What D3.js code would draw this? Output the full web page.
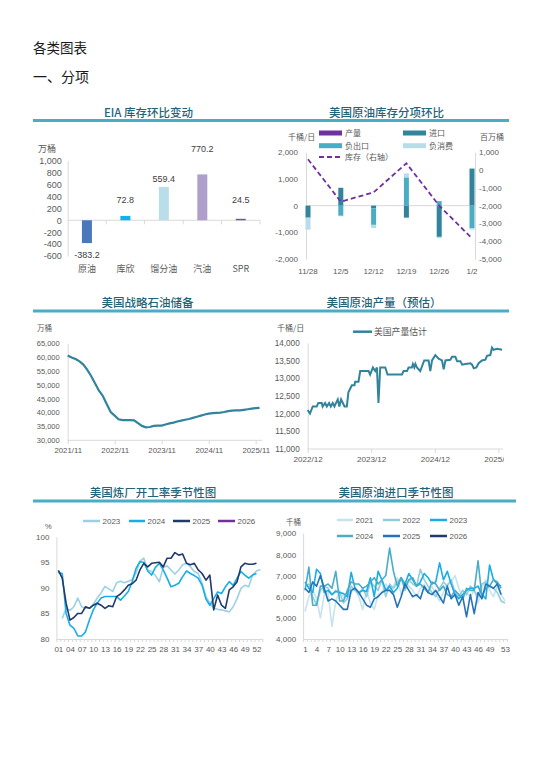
<!DOCTYPE html>
<html>
<head>
<meta charset="utf-8">
<title>各类图表</title>
<style>
  body { margin: 0; background: #fff; }
  text { font-family: "Liberation Sans", "Noto Sans CJK SC", sans-serif; }
  .cjk { font-family: "Noto Sans CJK SC", sans-serif; }
</style>
</head>
<body>
<div id="page"></div>
<script src="https://cdn.jsdelivr.net/npm/d3@7/dist/d3.min.js"></script>
<script>

// EIA 库存环比变动 (万桶)
var eiaCats = ["原油", "库欣", "馏分油", "汽油", "SPR"];
var eiaValues = [-383.2, 72.8, 559.4, 770.2, 24.5];
var eiaTicks = [-600, -400, -200, 0, 200, 400, 600, 800, 1000];

// 美国原油库存分项环比 (千桶/日, 库存 右轴)
var splitWeeks = ["11/28", "12/5", "12/12", "12/19", "12/26", "1/2"];
var splitProd = [0, 20, 0, 10, -20, 10];
var splitImport = [-450, 650, -100, -450, -1150, 1380];
var splitNegExport = [0, -380, -620, 1050, 170, -850];
var splitNegCons = [-450, -20, -120, 150, -50, -50];
var splitStock = [606, -1777, -1251, 381, -2000, -3840];
var splitLeftTicks = [-2000, -1000, 0, 1000, 2000];
var splitRightTicks = [-5000, -4000, -3000, -2000, -1000, 0, 1000];

// 美国战略石油储备 (万桶, monthly from 2021/11)
var sprValues = [60600, 59900, 59300, 58500, 57400, 55500, 53300, 50600, 48000, 46000,
  43000, 40200, 38900, 37600, 37300, 37300, 37300, 37200, 36200, 35200,
  34700, 34800, 35200, 35300, 35300, 35700, 36100, 36400, 36800, 37100,
  37400, 37700, 38100, 38500, 38900, 39300, 39600, 39800, 39900, 40000,
  40200, 40500, 40700, 40800, 40800, 41000, 41200, 41400, 41600, 41700];
var sprTicks = ["2021-11-01", "2022-11-01", "2023-11-01", "2024-11-01", "2025-11-01"];
var sprYTicks = [30000, 35000, 40000, 45000, 50000, 55000, 60000, 65000];

// 美国原油产量 (千桶/日)
var prodDates = ["2022-12-01", "2022-12-14", "2022-12-30", "2023-01-22", "2023-01-31", "2023-02-20",
  "2023-02-25", "2023-03-11", "2023-03-21", "2023-04-03", "2023-04-13", "2023-04-24", "2023-05-04",
  "2023-05-13", "2023-05-23", "2023-06-01", "2023-06-11", "2023-06-21", "2023-07-01", "2023-07-14",
  "2023-07-23", "2023-08-02", "2023-08-12", "2023-08-27", "2023-08-31", "2023-09-19", "2023-09-29",
  "2023-11-16", "2023-11-25", "2023-12-11", "2023-12-24", "2024-01-03", "2024-01-12", "2024-01-22",
  "2024-02-20", "2024-03-04", "2024-05-26", "2024-06-04", "2024-06-24", "2024-07-03", "2024-07-22",
  "2024-07-28", "2024-08-05", "2024-08-11", "2024-08-20", "2024-09-08", "2024-10-01", "2024-10-26",
  "2024-11-05", "2024-11-15", "2024-12-04", "2024-12-23", "2025-01-11", "2025-01-21", "2025-01-31",
  "2025-02-28", "2025-03-10", "2025-03-29", "2025-04-08", "2025-04-27", "2025-05-07", "2025-05-26",
  "2025-06-24", "2025-07-03", "2025-07-13", "2025-07-28", "2025-08-10", "2025-08-29", "2025-09-18",
  "2025-09-27", "2025-10-16", "2025-10-26", "2025-11-04", "2025-11-24", "2025-12-23"];
var prodValues = [12100, 12000, 12200, 12200, 12300, 12300,
  12200, 12300, 12200, 12300, 12200, 12300, 12200,
  12300, 12400, 12200, 12400, 12300, 12200, 12200,
  12600, 12700, 12800, 12800, 12900, 12900, 13200,
  13200, 13100, 13300, 13200, 13300, 12300, 13300,
  13300, 13100, 13100, 13200, 13200, 13300, 13300,
  13400, 13300, 13400, 13300, 13200, 13500, 13500,
  13200, 13500, 13650, 13550, 13500, 13250, 13500,
  13520, 13600, 13600, 13480, 13480, 13380, 13400,
  13420, 13380, 13280, 13300, 13420, 13500, 13520,
  13630, 13650, 13860, 13800, 13830, 13800];
var prodTicks = ["2022-12-01", "2023-12-01", "2024-12-01", "2025-12-01"];
var prodYTicks = [11000, 11500, 12000, 12500, 13000, 13500, 14000];

// 美国炼厂开工率 (%) by week
var utilWeekTicks = [1, 4, 7, 10, 13, 16, 19, 22, 25, 28, 31, 34, 37, 40, 43, 46, 49, 52];
var util2023 = [null, 84.0, 86.0, 85.6, 86.3, 88.0, 86.3, 86.0, 86.0, 86.8, 88.0, 89.0, 90.3, 89.8, 89.3,
  91.0, 91.3, 91.0, 91.3, 91.6, 92.9, 95.2, 95.8, 93.5, 93.2, 92.4, 91.2, 94.0, 94.3, 93.5, 92.7,
  93.5, 94.5, 94.8, 94.1, 93.2, 92.8, 90.9, 88.3, 87.0, 86.0, 85.8, 85.7, 85.5, 85.3, 86.3, 87.9,
  89.9, 90.5, 90.2, 92.5, 93.3, 93.6];
var util2024 = [93.0, 92.8, 85.0, 82.7, 82.1, 80.6, 80.6, 81.4, 83.7, 85.7, 87.0, 88.0, 88.3, 88.3,
  88.3, 88.3, 87.6, 88.4, 89.3, 91.2, 93.8, 95.1, 95.0, 93.3, 92.5, 94.0, 94.8, 93.5, 91.9, 90.2,
  90.5, 90.9, 92.2, 93.3, 92.8, 92.4, 91.9, 90.5, 87.8, 86.6, 87.9, 89.2, 88.9, 90.2, 91.2, 90.5,
  91.9, 93.2, 92.5, 91.9, 92.5, 92.8];
var util2025 = [93.4, 91.9, 87.0, 83.7, 84.2, 85.0, 85.0, 86.3, 86.0, 86.6, 87.0, 86.6, 86.0, 86.5,
  86.3, 88.3, 88.8, 89.6, 90.5, 90.8, 91.5, 93.5, 94.8, 94.1, 94.8, 94.9, 95.0, 94.1, 95.8, 95.8,
  96.9, 96.4, 96.6, 94.8, 94.5, 94.8, 93.5, 92.8, 91.5, 92.5, 85.7, 88.6, 86.6, 86.0, 89.6, 90.2,
  91.2, 94.1, 94.8, 94.6, 94.6, 94.8];
var util2026 = [];
var utilYTicks = [80, 85, 90, 95, 100];

// 美国原油进口 (千桶) by week
var impWeekTicks = [1, 4, 7, 10, 13, 16, 19, 22, 25, 28, 31, 34, 37, 40, 43, 46, 49, 53];
var imp2021 = [5300, 6000, 6300, 5900, 5000, 6100, 6200, 4600, 5800, 6300, 6000, 5900, 6200, 6400,
  6000, 5400, 6300, 5700, 5400, 6100, 6200, 6600, 6300, 6500, 6900, 6100, 6700, 6500, 6300, 6000,
  6400, 6600, 6200, 6500, 6100, 5800, 6200, 6600, 6700, 7000, 6400, 5900, 6200, 6000, 6300, 5700,
  6400, 6800, 6300, 6000, 6500, 6100, 5800];
var imp2022 = [6500, 6600, 6000, 5600, 6300, 6500, 6400, 6100, 6300, 6200, 5700, 5900, 6500, 6300,
  6100, 6400, 6000, 6700, 6500, 6300, 6800, 6000, 6600, 6400, 6700, 6900, 6300, 6800, 6600, 6500,
  7300, 6800, 6500, 6200, 6000, 6400, 6700, 6500, 6800, 6200, 6000, 6300, 6100, 6500, 6300, 6000,
  6600, 6700, 6500, 6400, 6200, 5800, 5700];
var imp2023 = [6700, 6400, 6200, 7300, 7100, 6200, 6300, 6100, 6250, 6200, 6150, 6000, 7150, 6400,
  6200, 6300, 6250, 6900, 6000, 7200, 6800, 6300, 6500, 6200, 6400, 6900, 6600, 7100, 6800, 6500,
  6700, 7100, 6900, 6600, 6700, 7600, 6800, 7200, 6600, 6100, 5900, 6100, 6300, 6400, 6400, 6500,
  6100, 5900, 7500, 6800, 6600, 6500];
var imp2024 = [6300, 7400, 5600, 5600, 6500, 6500, 6600, 6400, 7200, 5800, 5800, 6300, 6700, 6600,
  6600, 6400, 6500, 6700, 6900, 6600, 6800, 7000, 8300, 7200, 6500, 6900, 6400, 6800, 6900, 6500,
  6600, 6400, 6200, 6700, 6600, 6300, 6500, 6100, 6000, 6300, 6100, 5900, 6400, 6300, 6300, 7700,
  6000, 6400, 6500, 6800, 6700, 6400];
var imp2025 = [6400, 6200, 6700, 6500, 7000, 6400, 5800, 5900, 5800, 5600, 5400, 5400, 6300, 6400,
  6200, 5900, 5600, 5500, 5900, 6000, 6200, 6300, 6300, 6100, 5500, 6000, 6600, 6300, 6000, 6100,
  5900, 6500, 6200, 6100, 6300, 6000, 5700, 6500, 5900, 6100, 5600, 6000, 5050, 6100, 5200, 6200,
  5900, 6600, 6500, 6400, 6600, 6100];
var imp2026 = [6400];
var impYTicks = [4000, 5000, 6000, 7000, 8000, 9000];


var W = 550, H = 778;
var AXIS = "#D9D9D9", LABEL = "#595959", TITLE = "#1F6479", RULE = "#4BACC6";

var svg = d3.select("#page").append("svg")
	.attr("width", W).attr("height", H)
	.style("display", "block");
svg.append("rect").attr("width", W).attr("height", H).attr("fill", "#fff");

var loc = d3.formatLocale({decimal: ".", thousands: ",", grouping: [3], currency: ["", ""], minus: "-"});
var comma = loc.format(",");
var oneDec = loc.format(".1f");
var day = d3.timeParse("%Y-%m-%d");

function text(x, y, str, size, opts) {
	opts = opts || {};
	return svg.append("text")
		.attr("class", opts.latin ? null : "cjk")
		.attr("x", x).attr("y", y)
		.attr("text-anchor", opts.anchor || "start")
		.style("font-size", size + "px")
		.style("font-weight", opts.weight || null)
		.style("fill", opts.fill || LABEL)
		.text(str);
}
function rule(x0, x1, y) {
	svg.append("line").attr("x1", x0).attr("x2", x1).attr("y1", y).attr("y2", y)
		.attr("stroke", RULE).attr("stroke-width", 3);
}
function tidy(g, size) {
	g.attr("font-family", '"Liberation Sans", sans-serif').attr("font-size", size);
	g.select(".domain").attr("stroke", AXIS);
	g.selectAll(".tick line").attr("stroke", AXIS);
	g.selectAll(".tick text").attr("fill", LABEL);
	return g;
}
function hline(x0, x1, y) {
	svg.append("line").attr("x1", x0).attr("x2", x1).attr("y1", y).attr("y2", y)
		.attr("stroke", AXIS).attr("stroke-width", 1);
}

// page headings
text(33, 53, "各类图表", 13.5, {fill: "#1a1a1a"});
text(33, 82, "一、分项", 14, {fill: "#1a1a1a"});

// section rules + titles
rule(33, 509, 120.5);
rule(33, 509, 311);
rule(33, 516, 501);
var tOpt = {anchor: "middle", fill: TITLE, weight: 500};
text(148.5, 117, "EIA 库存环比变动", 11.5, tOpt);
text(386.5, 117, "美国原油库存分项环比", 11.5, tOpt);
text(147.5, 307, "美国战略石油储备", 11.5, tOpt);
text(384, 307, "美国原油产量（预估）", 11.5, tOpt);
text(153, 497, "美国炼厂开工率季节性图", 11.5, tOpt);
text(396, 497, "美国原油进口季节性图", 11.5, tOpt);


// ---------- EIA 库存环比变动
(function () {
	var x = d3.scaleBand().domain(eiaCats).range([67.7, 260]);
	var y = d3.scaleLinear().domain([-600, 1000]).range([256, 160.7]);
	var colors = ["#4A78BA", "#0FB0EE", "#B9DEEA", "#AE9FCB", "#606089"];
	// Excel label nudges (px above the bar end)
	var lift = [0, 16, 8, 25, 19];

	text(38, 152, "万桶", 9);
	tidy(svg.append("g").attr("transform", "translate(67.7,0)")
		.call(d3.axisLeft(y).tickValues(eiaTicks).tickFormat(comma).tickSize(0).tickPadding(6).tickSizeOuter(0)), 9);

	hline(67.7, 260, y(0));
	svg.selectAll(".eia-tick").data(eiaCats.slice(1).concat([null])).enter().append("line")
		.attr("x1", function (d) { return d ? x(d) : x.range()[1]; })
		.attr("x2", function (d) { return d ? x(d) : x.range()[1]; })
		.attr("y1", y(0)).attr("y2", y(0) + 4)
		.attr("stroke", AXIS);

	var bw = 10;
	svg.selectAll(".eia-bar").data(eiaValues).enter().append("rect")
		.attr("x", function (d, i) { return x(eiaCats[i]) + (x.bandwidth() - bw) / 2; })
		.attr("y", function (d) { return y(Math.max(0, d)); })
		.attr("width", bw)
		.attr("height", function (d) { return Math.abs(y(d) - y(0)); })
		.attr("fill", function (d, i) { return colors[i]; });

	svg.selectAll(".eia-val").data(eiaValues).enter().append("text")
		.attr("x", function (d, i) { return x(eiaCats[i]) + x.bandwidth() / 2; })
		.attr("y", function (d, i) { return d < 0 ? y(d) + 15 : y(d) - lift[i] + 3; })
		.attr("text-anchor", "middle")
		.style("font-size", "9px").style("fill", "#404040")
		.text(function (d) { return oneDec(d); });

	svg.selectAll(".eia-cat").data(eiaCats).enter().append("text")
		.attr("class", "cjk")
		.attr("x", function (d) { return x(d) + x.bandwidth() / 2; })
		.attr("y", 272)
		.attr("text-anchor", "middle")
		.style("font-size", "9px").style("fill", LABEL)
		.text(function (d) { return d; });
})();


// ---------- 美国原油库存分项环比
(function () {
	var x = d3.scalePoint().domain(splitWeeks).range([308, 472]);
	var yL = d3.scaleLinear().domain([-2000, 2000]).range([259, 152.3]);
	var yR = d3.scaleLinear().domain([-5000, 1000]).range([259, 152.3]);
	var keys = ["prod", "imp", "exp", "cons"];
	var names = {prod: "产量", imp: "进口", exp: "负出口", cons: "负消费"};
	var colors = {prod: "#7030A0", imp: "#31849B", exp: "#4BACC6", cons: "#B7DEE8"};

	var rows = splitWeeks.map(function (w, i) {
		return {week: w, prod: splitProd[i], imp: splitImport[i], exp: splitNegExport[i], cons: splitNegCons[i]};
	});
	var series = d3.stack().keys(keys).offset(d3.stackOffsetDiverging)(rows);

	text(288, 140, "千桶/日", 8);
	text(480, 140, "百万桶", 8);

	tidy(svg.append("g").attr("transform", "translate(306,0)")
		.call(d3.axisLeft(yL).tickValues(splitLeftTicks).tickFormat(comma).tickSize(0).tickPadding(8).tickSizeOuter(0)), 8);
	tidy(svg.append("g").attr("transform", "translate(475,0)")
		.call(d3.axisRight(yR).tickValues(splitRightTicks).tickFormat(comma).tickSize(0).tickPadding(4).tickSizeOuter(0)), 8);
	hline(306, 475, yL(0));

	var bw = 5;
	svg.selectAll(".split-s").data(series).enter().append("g")
		.attr("fill", function (s) { return colors[s.key]; })
		.selectAll("rect").data(function (s) { return s; }).enter().append("rect")
		.attr("x", function (d) { return x(d.data.week) - bw / 2; })
		.attr("y", function (d) { return yL(Math.max(d[0], d[1])); })
		.attr("width", bw)
		.attr("height", function (d) { return Math.abs(yL(d[0]) - yL(d[1])); });

	var line = d3.line()
		.x(function (d, i) { return x(splitWeeks[i]); })
		.y(function (d) { return yR(d); });
	svg.append("path").datum(splitStock)
		.attr("d", line)
		.attr("fill", "none")
		.attr("stroke", "#7030A0")
		.attr("stroke-width", 1.8)
		.attr("stroke-dasharray", "5,3");

	svg.selectAll(".split-x").data(splitWeeks).enter().append("text")
		.attr("x", function (d) { return x(d); })
		.attr("y", 274)
		.attr("text-anchor", "middle")
		.style("font-size", "8px").style("fill", LABEL)
		.text(function (d) { return d; });

	// legend
	var spots = [[319, 133, "prod"], [403, 133, "imp"], [319, 145.7, "exp"], [403, 145.7, "cons"]];
	spots.forEach(function (s) {
		svg.append("rect").attr("x", s[0]).attr("y", s[1] - 2.5).attr("width", 23).attr("height", 5)
			.attr("fill", colors[s[2]]);
		text(s[0] + 26, s[1] + 3, names[s[2]], 8);
	});
	svg.append("line").attr("x1", 319).attr("x2", 342).attr("y1", 157).attr("y2", 157)
		.attr("stroke", "#7030A0").attr("stroke-width", 1.8).attr("stroke-dasharray", "5,3");
	text(345, 160, "库存（右轴）", 8);
})();


// ---------- 美国战略石油储备
(function () {
	var x = d3.scaleTime().domain([day("2021-11-01"), day("2025-11-01")]).range([67.7, 255.7]);
	var y = d3.scaleLinear().domain([30000, 65000]).range([440.3, 343.3]);

	text(37, 331, "万桶", 7.5);
	tidy(svg.append("g").attr("transform", "translate(67.7,0)")
		.call(d3.axisLeft(y).tickValues(sprYTicks).tickFormat(comma).tickSize(0).tickPadding(8).tickSizeOuter(0)), 7.5);

	var gx = svg.append("g").attr("transform", "translate(0,440.3)")
		.call(d3.axisBottom(x).tickValues(sprTicks.map(day)).tickFormat(d3.timeFormat("%Y/%m"))
			.tickSize(4).tickPadding(3).tickSizeOuter(0));
	tidy(gx, 7.8);
	gx.select(".domain").remove();
	hline(67.7, 262.3, 440.3);

	var line = d3.line()
		.x(function (d, i) { return x(new Date(2021, 10 + i, 1)); })
		.y(function (d) { return y(d); });
	svg.append("path").datum(sprValues)
		.attr("d", line)
		.attr("fill", "none")
		.attr("stroke", "#31849B")
		.attr("stroke-width", 2.2);
})();


// ---------- 美国原油产量（预估）
(function () {
	var x = d3.scaleTime().domain([day("2022-12-01"), day("2025-12-01")]).range([307.7, 498.3]);
	var y = d3.scaleLinear().domain([11000, 14000]).range([449, 342.7]);

	text(277, 331, "千桶/日", 8);
	tidy(svg.append("g").attr("transform", "translate(307.7,0)")
		.call(d3.axisLeft(y).tickValues(prodYTicks).tickFormat(comma).tickSize(0).tickPadding(8).tickSizeOuter(0)), 8.2);

	// last label is cut off at the plot edge, as in the source chart
	svg.append("clipPath").attr("id", "prodclip")
		.append("rect").attr("x", 270).attr("y", -10).attr("width", 234).attr("height", 40);
	var gx = svg.append("g").attr("transform", "translate(0,449)")
		.attr("clip-path", "url(#prodclip)")
		.call(d3.axisBottom(x).tickValues(prodTicks.map(day)).tickFormat(d3.timeFormat("%Y/%m"))
			.tickSize(4).tickPadding(3).tickSizeOuter(0));
	tidy(gx, 8.1);
	gx.select(".domain").remove();
	hline(307.7, 503, 449);

	var line = d3.line()
		.x(function (d, i) { return x(day(prodDates[i])); })
		.y(function (d) { return y(d); });
	svg.append("path").datum(prodValues)
		.attr("d", line)
		.attr("fill", "none")
		.attr("stroke", "#31849B")
		.attr("stroke-width", 2);

	svg.append("line").attr("x1", 353).attr("x2", 372).attr("y1", 331.7).attr("y2", 331.7)
		.attr("stroke", "#31849B").attr("stroke-width", 2.5);
	text(374, 335, "美国产量估计", 8.8);
})();


// seasonal helper
function seasonal(cfg) {
	var x = d3.scaleLinear().domain([0.5, 53.5]).range(cfg.xr);
	var y = d3.scaleLinear().domain(cfg.yd).range(cfg.yr);

	tidy(svg.append("g").attr("transform", "translate(" + cfg.xr[0] + ",0)")
		.call(d3.axisLeft(y).tickValues(cfg.yTicks).tickFormat(comma).tickSize(0).tickPadding(7).tickSizeOuter(0)), 8);

	// minor ticks between weeks
	var gm = svg.append("g").attr("transform", "translate(0," + cfg.yr[0] + ")")
		.call(d3.axisBottom(x).tickValues(d3.range(0.5, 54, 1)).tickFormat("").tickSize(3).tickSizeOuter(0));
	tidy(gm, 8);
	var gx = svg.append("g").attr("transform", "translate(0," + cfg.yr[0] + ")")
		.call(d3.axisBottom(x).tickValues(cfg.xTicks).tickFormat(cfg.xFormat).tickSize(0).tickPadding(7));
	tidy(gx, 8);
	gx.select(".domain").remove();

	var line = d3.line()
		.defined(function (d) { return d != null; })
		.x(function (d, i) { return x(i + 1); })
		.y(function (d) { return y(d); });
	cfg.series.forEach(function (s) {
		svg.append("path").datum(s.values)
			.attr("d", line)
			.attr("fill", "none")
			.attr("stroke", s.color)
			.attr("stroke-width", s.width || 1.6)
			.attr("stroke-linejoin", "round");
	});
	cfg.series.forEach(function (s, i) {
		var p = cfg.legend[i];
		svg.append("line").attr("x1", p[0]).attr("x2", p[0] + p[2]).attr("y1", p[1]).attr("y2", p[1])
			.attr("stroke", s.color).attr("stroke-width", 2.5);
		text(p[0] + p[2] + 2.5, p[1] + 3, s.name, 8, {latin: true});
	});
}

// ---------- 美国炼厂开工率季节性图
text(45, 529, "%", 7.5, {latin: true});
seasonal({
	xr: [56.4, 262.3], yd: [80, 100], yr: [639, 536.7],
	yTicks: utilYTicks, xTicks: utilWeekTicks, xFormat: d3.format("02d"),
	series: [
		{name: "2023", values: util2023, color: "#9BD1E4"},
		{name: "2024", values: util2024, color: "#16AEEA"},
		{name: "2025", values: util2025, color: "#203A6B"},
		{name: "2026", values: util2026, color: "#7030A0"}
	],
	legend: [[83, 521, 17], [129, 521, 16], [173, 521, 17], [218, 521, 17]]
});

// ---------- 美国原油进口季节性图
text(286, 525, "千桶", 7.5);
seasonal({
	xr: [303.1, 506.9], yd: [4000, 9000], yr: [639, 533.3],
	yTicks: impYTicks, xTicks: impWeekTicks, xFormat: d3.format("d"),
	series: [
		{name: "2021", values: imp2021, color: "#C6E3EE"},
		{name: "2022", values: imp2022, color: "#92CDDC"},
		{name: "2023", values: imp2023, color: "#17ADE6"},
		{name: "2024", values: imp2024, color: "#4BACC6"},
		{name: "2025", values: imp2025, color: "#2574BA"},
		{name: "2026", values: imp2026, color: "#1F3A6B", width: 2.5}
	],
	legend: [[337, 520, 16], [383, 520, 17], [430, 520, 17], [337, 536, 16], [383, 536, 17], [430, 536, 17]]
});

</script>
</body>
</html>
